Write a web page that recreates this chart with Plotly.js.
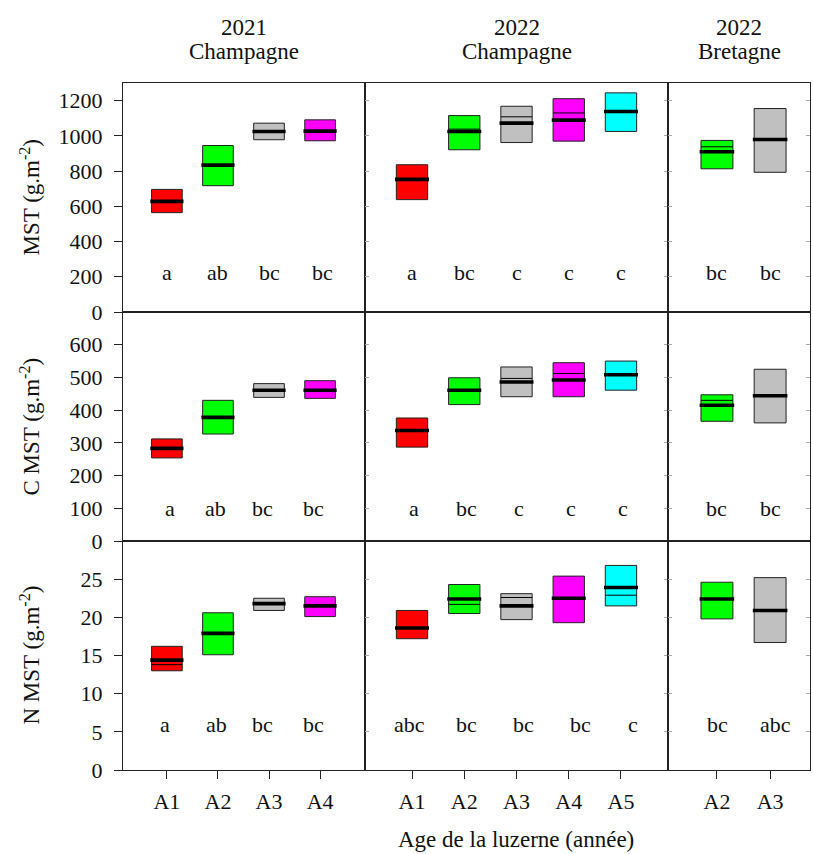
<!DOCTYPE html>
<html><head><meta charset="utf-8">
<script src="https://cdn.plot.ly/plotly-3.0.1.min.js"></script>
<style>html,body{margin:0;padding:0;background:#fff}#chart{width:813px;height:854px}</style>
</head><body><div id="chart"></div>
<script>
// ---------- text ----------
const headerYears = ['2021', '2022', '2022'];
const headerSites = ['Champagne', 'Champagne', 'Bretagne'];
const rowTitles = ['MST (g.m<sup>-2</sup>)', 'C MST (g.m<sup>-2</sup>)', 'N MST (g.m<sup>-2</sup>)'];
const xTitle = 'Age de la luzerne (année)';

// ---------- categories ----------
const cats21C = ['A1', 'A2', 'A3', 'A4'];
const cats22C = ['A1', 'A2', 'A3', 'A4', 'A5'];
const cats22B = ['A2', 'A3'];

// ---------- y tick labels ----------
const yTicksMST = [0, 200, 400, 600, 800, 1000, 1200];
const yTicksC = [0, 100, 200, 300, 400, 500, 600];
const yTicksN = [0, 5, 10, 15, 20, 25];

// ---------- MST ----------
const mst21C_lo = [564, 717, 978, 972];
const mst21C_hi = [696, 945, 1072, 1091];
const mst21C_med = [628, 834, 1025, 1027];
const mst21C_mean = [628, 834, 1025, 1027];
const mst21C_let = ['a', 'ab', 'bc', 'bc'];

const mst22C_lo = [638, 921, 962, 970, 1025];
const mst22C_hi = [836, 1115, 1168, 1211, 1244];
const mst22C_med = [753, 1025, 1072, 1089, 1138];
const mst22C_mean = [753, 1038, 1108, 1130, 1138];
const mst22C_let = ['a', 'bc', 'c', 'c', 'c'];

const mst22B_lo = [813, 793];
const mst22B_hi = [974, 1155];
const mst22B_med = [910, 979];
const mst22B_mean = [938, 979];
const mst22B_let = ['bc', 'bc'];

// ---------- C MST ----------
const c21C_lo = [254, 327, 439, 436];
const c21C_hi = [312, 430, 481, 490];
const c21C_med = [283, 378, 461, 461];
const c21C_mean = [283, 378, 461, 461];
const c21C_let = ['a', 'ab', 'bc', 'bc'];

const c22C_lo = [287, 417, 441, 441, 461];
const c22C_hi = [376, 499, 532, 545, 550];
const c22C_med = [338, 461, 486, 492, 508];
const c22C_mean = [338, 461, 497, 512, 508];
const c22C_let = ['a', 'bc', 'c', 'c', 'c'];

const c22B_lo = [366, 361];
const c22B_hi = [447, 525];
const c22B_med = [415, 444];
const c22B_mean = [430, 444];
const c22B_let = ['bc', 'bc'];

// ---------- N MST ----------
const n21C_lo = [13.0, 15.1, 20.9, 20.1];
const n21C_hi = [16.2, 20.6, 22.5, 22.7];
const n21C_med = [14.4, 17.9, 21.8, 21.5];
const n21C_mean = [13.8, 17.9, 21.8, 21.5];
const n21C_let = ['a', 'ab', 'bc', 'bc'];

const n22C_lo = [17.2, 20.5, 19.7, 19.3, 21.5];
const n22C_hi = [20.9, 24.3, 23.1, 25.4, 26.8];
const n22C_med = [18.6, 22.4, 21.5, 22.5, 23.9];
const n22C_mean = [18.6, 21.7, 22.6, 22.5, 22.9];
const n22C_let = ['abc', 'bc', 'bc', 'bc', 'c'];

const n22B_lo = [19.8, 16.7];
const n22B_hi = [24.6, 25.2];
const n22B_med = [22.4, 20.9];
const n22B_mean = [22.4, 20.9];
const n22B_let = ['bc', 'abc'];

// ---------- styles ----------
const colorMap = {A1: '#FF0000', A2: '#00FF00', A3: '#C0C0C0', A4: '#FF00FF', A5: '#00FFFF'};
const FONT = 'Liberation Serif, Times New Roman, serif';
const W = 813, H = 854;
const colPx = [[123, 365], [365, 668], [668, 810]];
const rowPx = [[83, 312], [312, 541], [541, 770]];
const xRanges = [[0.14, 4.88], [0.1, 5.9], [0.08, 2.75]];
const yRanges = [[0, 1300], [0, 700], [0, 30]];
const yTicks = [yTicksMST, yTicksC, yTicksN];
const letterY = [225, 100, 6];
const letterShift = [
  [[0, 0, 0, 2], [0, 0, 0, 0, 0], [0, 0]],
  [[3, -2, -7, -7], [2, 2, 2, 2, 2], [0, 0]],
  [[-2, -1, -7, -7], [-3, 2, 7, 12, 12], [1, 5]]
];

const cats = [cats21C, cats22C, cats22B];
const panelData = [
  [[mst21C_lo, mst21C_hi, mst21C_med, mst21C_mean, mst21C_let],
   [mst22C_lo, mst22C_hi, mst22C_med, mst22C_mean, mst22C_let],
   [mst22B_lo, mst22B_hi, mst22B_med, mst22B_mean, mst22B_let]],
  [[c21C_lo, c21C_hi, c21C_med, c21C_mean, c21C_let],
   [c22C_lo, c22C_hi, c22C_med, c22C_mean, c22C_let],
   [c22B_lo, c22B_hi, c22B_med, c22B_mean, c22B_let]],
  [[n21C_lo, n21C_hi, n21C_med, n21C_mean, n21C_let],
   [n22C_lo, n22C_hi, n22C_med, n22C_mean, n22C_let],
   [n22B_lo, n22B_hi, n22B_med, n22B_mean, n22B_let]]
];

const traces = [];
const layout = {
  width: W, height: H,
  margin: {l: 0, r: 0, t: 0, b: 0},
  paper_bgcolor: '#fff', plot_bgcolor: '#fff',
  showlegend: false,
  font: {family: FONT, size: 22, color: '#111'},
  annotations: [],
  hovermode: false
};

for (let r = 0; r < 3; r++) {
  for (let c = 0; c < 3; c++) {
    const k = r * 3 + c + 1;
    const xa = 'x' + (k === 1 ? '' : k), ya = 'y' + (k === 1 ? '' : k);
    const [lo, hi, med, mean, lets] = panelData[r][c];
    const cc = cats[c];
    const xs = cc.map((_, i) => i + 1);
    traces.push({
      type: 'bar', xaxis: xa, yaxis: ya,
      x: xs, base: lo, y: hi.map((v, i) => v - lo[i]),
      width: 0.6,
      marker: {color: cc.map(n => colorMap[n]), line: {color: '#222', width: 1}},
      hoverinfo: 'skip'
    });
    const mx = [], my = [], dx = [], dy = [];
    xs.forEach((x, i) => {
      mx.push(x - 0.3, x + 0.3, null); my.push(mean[i], mean[i], null);
      dx.push(x - 0.325, x + 0.325, null); dy.push(med[i], med[i], null);
    });
    traces.push({type: 'scatter', mode: 'lines', xaxis: xa, yaxis: ya, x: mx, y: my,
      line: {color: '#000', width: 1}, hoverinfo: 'skip'});
    traces.push({type: 'scatter', mode: 'lines', xaxis: xa, yaxis: ya, x: dx, y: dy,
      line: {color: '#000', width: 3.6}, hoverinfo: 'skip'});

    const bottom = r === 2;
    layout['xaxis' + (k === 1 ? '' : k)] = {
      domain: [colPx[c][0] / W, colPx[c][1] / W],
      anchor: ya, range: xRanges[c], fixedrange: true,
      tickvals: xs, ticktext: cc,
      showticklabels: bottom,
      ticks: bottom ? 'outside' : '', ticklen: 8, tickcolor: '#222',
      ticklabelstandoff: 4,
      showline: true, linecolor: '#222', linewidth: 1, mirror: true,
      showgrid: false, zeroline: false,
      tickfont: {family: FONT, size: 22, color: '#111'}
    };
    const left = c === 0;
    layout['yaxis' + (k === 1 ? '' : k)] = {
      domain: [1 - rowPx[r][1] / H, 1 - rowPx[r][0] / H],
      anchor: xa, range: yRanges[r], fixedrange: true,
      tickvals: yTicks[r],
      showticklabels: left,
      ticks: left ? 'outside' : 'inside', ticklen: left ? 8 : 4,
      tickcolor: left ? '#222' : '#aaa',
      ticklabelstandoff: 7,
      showline: true, linecolor: '#222', linewidth: 1, mirror: left ? true : 'ticks',
      showgrid: false, zeroline: false,
      tickfont: {family: FONT, size: 22, color: '#111'}
    };
    lets.forEach((t, i) => {
      layout.annotations.push({xref: xa, yref: ya, x: xs[i], y: letterY[r], text: t,
        showarrow: false, xshift: letterShift[r][c][i],
        font: {family: FONT, size: 22, color: '#111'}});
    });
  }
}

const headerLineY = [27, 52];
headerYears.forEach((t, c) => {
  [t, headerSites[c]].forEach((s, j) => {
    layout.annotations.push({xref: 'paper', yref: 'paper',
      x: (colPx[c][0] + colPx[c][1]) / 2 / W, y: 1 - headerLineY[j] / H,
      xanchor: 'center', yanchor: 'middle', text: s, showarrow: false,
      font: {family: FONT, size: 23, color: '#111'}});
  });
});
rowTitles.forEach((t, r) => {
  layout.annotations.push({xref: 'paper', yref: 'paper',
    x: 30 / W, y: 1 - (rowPx[r][0] + rowPx[r][1]) / 2 / H,
    xanchor: 'center', yanchor: 'middle', textangle: -90, text: t, showarrow: false,
    font: {family: FONT, size: 23, color: '#111'}});
});
layout.annotations.push({xref: 'paper', yref: 'paper', x: 516 / W, y: 0,
  xanchor: 'center', yanchor: 'bottom', text: xTitle, showarrow: false,
  font: {family: FONT, size: 23, color: '#111'}});

Plotly.newPlot('chart', traces, layout, {staticPlot: true, displayModeBar: false});
</script>
</body></html>
